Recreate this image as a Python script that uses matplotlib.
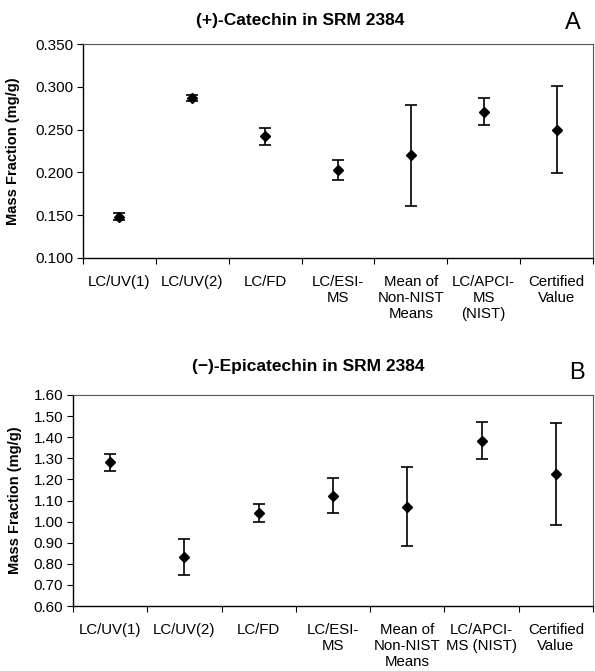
import matplotlib
matplotlib.use("Agg")
import matplotlib.pyplot as plt
import numpy as np

plt.rcParams['font.family'] = ['Liberation Sans', 'DejaVu Sans']

cats_a = ["LC/UV(1)", "LC/UV(2)", "LC/FD", "LC/ESI-\nMS", "Mean of\nNon-NIST\nMeans", "LC/APCI-\nMS\n(NIST)", "Certified\nValue"]
vals_a = [0.148, 0.287, 0.242, 0.203, 0.220, 0.271, 0.250]
errs_a = [0.004, 0.004, 0.010, 0.012, 0.059, 0.016, 0.051]

cats_b = ["LC/UV(1)", "LC/UV(2)", "LC/FD", "LC/ESI-\nMS", "Mean of\nNon-NIST\nMeans", "LC/APCI-\nMS (NIST)", "Certified\nValue"]
vals_b = [1.281, 0.831, 1.042, 1.123, 1.071, 1.383, 1.226]
errs_b = [0.040, 0.085, 0.043, 0.083, 0.188, 0.088, 0.240]

W, H = 595, 671
fig = plt.figure(figsize=(W/100, H/100), dpi=100)

def make(ax_rect, cats, vals, errs, yticks, fmt, title, letter, title_xy, letter_xy, ylabel_x):
    ax = fig.add_axes(ax_rect)
    x = np.arange(len(cats))
    ax.errorbar(x, vals, yerr=errs, fmt='D', color='black', markersize=5.5,
                ecolor='black', elinewidth=1.2, capsize=4, capthick=1.2)
    ax.set_xlim(-0.5, len(cats) - 0.5)
    ax.set_ylim(yticks[0], yticks[-1])
    ax.set_yticks(yticks)
    ax.set_yticklabels([fmt.format(v) for v in yticks], fontsize=11)
    ax.set_xticks(x)
    ax.set_xticklabels(cats, fontsize=10.8, linespacing=1.2)
    ax.set_xticks(np.arange(-0.5, len(cats)), minor=True)
    ax.tick_params(axis='x', which='major', length=0, pad=12)
    ax.tick_params(axis='x', which='minor', length=4, direction='out', width=0.8)
    ax.tick_params(axis='y', length=4, direction='out', width=0.8, pad=3)
    for s in ['left', 'bottom']:
        ax.spines[s].set_linewidth(1.0)
    for s in ['top', 'right']:
        ax.spines[s].set_linewidth(0.8)
        ax.spines[s].set_color('#555555')
    fig.text(title_xy[0], title_xy[1], title, ha='center', va='center', fontsize=12.5, fontweight='bold')
    fig.text(letter_xy[0], letter_xy[1], letter, ha='center', va='center', fontsize=17)
    ax.set_ylabel("Mass Fraction (mg/g)", fontsize=10.5, fontweight='bold')
    ycen = ax_rect[1] + ax_rect[3] / 2
    ax.yaxis.set_label_coords(ylabel_x, ycen, transform=fig.transFigure)
    return ax

yt_a = [0.100, 0.150, 0.200, 0.250, 0.300, 0.350]
make([83/W, 1-258/H, 510/W, 214/H], cats_a, vals_a, errs_a, yt_a, "{:.3f}",
     "(+)-Catechin in SRM 2384", "A", (300/W, 1-20/H), (573/W, 1-23/H), 20/W)

yt_b = [0.60, 0.70, 0.80, 0.90, 1.00, 1.10, 1.20, 1.30, 1.40, 1.50, 1.60]
make([73/W, 1-606/H, 520/W, 211/H], cats_b, vals_b, errs_b, yt_b, "{:.2f}",
     "(\u2212)-Epicatechin in SRM 2384", "B", (308/W, 1-367/H), (577/W, 1-373/H), 22/W)

fig.savefig("out.png", dpi=100)
